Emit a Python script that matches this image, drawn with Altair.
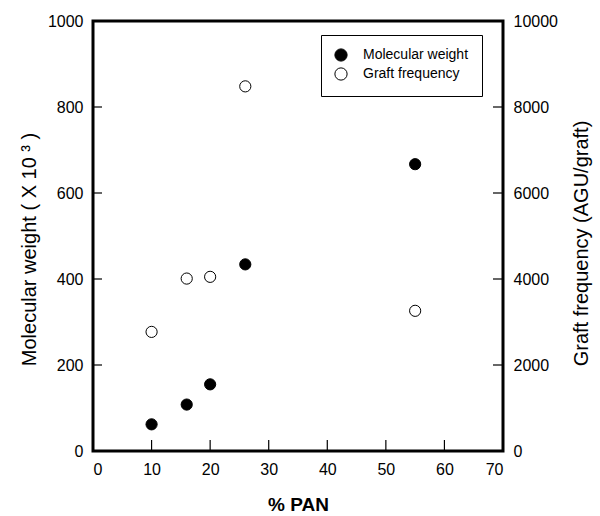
import altair as alt
import pandas as pd

# Data
pan_mw = [10, 16, 20, 26, 55]
mol_weight = [62, 108, 155, 434, 667]          # x 10^3
pan_gf = [10, 16, 20, 26, 55]
graft_freq = [2770, 4010, 4050, 8480, 3260]     # AGU/graft

x_ticks = [10, 20, 30, 40, 50, 60]
left_ticks = [200, 400, 600, 800]
right_ticks = [2000, 4000, 6000, 8000]

series_names = ["Molecular weight", "Graft frequency"]

mw_df = pd.DataFrame({"pan": pan_mw, "value": mol_weight, "series": series_names[0]})
gf_df = pd.DataFrame({"pan": pan_gf, "value": graft_freq, "series": series_names[1]})

FONT = "Liberation Sans"
W, H = 410, 430

x_scale = alt.Scale(domain=[0, 70], nice=False, zero=False)
y_left_scale = alt.Scale(domain=[0, 1000], nice=False)
y_right_scale = alt.Scale(domain=[0, 10000], nice=False)

fill_scale = alt.Scale(domain=series_names, range=["black", "white"])

x_axis = alt.Axis(
    values=list(range(0, 71, 10)), ticks=False, domain=False, grid=False, format="d",
    labelFontSize=16, labelPadding=10, labelColor="black", labelFont=FONT,
    title="% PAN", titleFontSize=19, titleFontWeight="bold", titlePadding=18,
    titleColor="black", titleFont=FONT,
)

left_axis = alt.Axis(
    orient="left", values=[0, 200, 400, 600, 800, 1000], ticks=False, domain=False, grid=False,
    format="d",
    labelFontSize=16, labelPadding=10, labelColor="black", labelFont=FONT,
    title="Molecular weight ( X 10 ³ )", titleFontSize=20, titleFontWeight="normal",
    titlePadding=8, titleColor="black", titleFont=FONT, titleY=228,
)

right_axis = alt.Axis(
    orient="right", values=[0, 2000, 4000, 6000, 8000, 10000], ticks=False, domain=False, grid=False,
    format="d",
    labelFontSize=16, labelPadding=10, labelColor="black", labelFont=FONT,
    title="Graft frequency (AGU/graft)", titleFontSize=20, titleFontWeight="normal",
    titleAngle=270, titlePadding=34, titleColor="black", titleFont=FONT, titleY=222,
)

legend = alt.Legend(
    title=None, orient="none", legendX=228, legendY=14,
    strokeColor="black", padding=13, rowPadding=1,
    symbolType="circle", symbolSize=150, symbolStrokeColor="black", symbolStrokeWidth=1,
    labelFontSize=14, labelFont=FONT, labelColor="black", labelOffset=15,
)

mw_points = alt.Chart(mw_df).mark_circle(size=125, stroke="black", strokeWidth=1, opacity=1).encode(
    x=alt.X("pan:Q", scale=x_scale, axis=x_axis),
    y=alt.Y("value:Q", scale=y_left_scale, axis=left_axis),
    fill=alt.Fill("series:N", scale=fill_scale, legend=legend),
)

left_tick_df = pd.DataFrame({"v": left_ticks})
left_tick_marks = alt.Chart(left_tick_df).mark_rule(color="black", strokeWidth=1.2).encode(
    y=alt.Y("v:Q", scale=y_left_scale, axis=left_axis),
    x=alt.value(0), x2=alt.value(9),
)

x_tick_df = pd.DataFrame({"v": x_ticks})
x_tick_marks = alt.Chart(x_tick_df).mark_rule(color="black", strokeWidth=1.2).encode(
    x=alt.X("v:Q", scale=x_scale, axis=x_axis),
    y=alt.value(H), y2=alt.value(H - 11),
)

left_group = alt.layer(mw_points, left_tick_marks, x_tick_marks)

gf_points = alt.Chart(gf_df).mark_circle(size=125, stroke="black", strokeWidth=1, opacity=1).encode(
    x=alt.X("pan:Q", scale=x_scale, axis=x_axis),
    y=alt.Y("value:Q", scale=y_right_scale, axis=right_axis),
    fill=alt.Fill("series:N", scale=fill_scale, legend=legend),
)

right_tick_df = pd.DataFrame({"v": right_ticks})
right_tick_marks = alt.Chart(right_tick_df).mark_rule(color="black", strokeWidth=1.2).encode(
    y=alt.Y("v:Q", scale=y_right_scale, axis=right_axis),
    x=alt.value(W), x2=alt.value(W - 10),
)

right_group = alt.layer(gf_points, right_tick_marks)

chart = alt.layer(left_group, right_group).resolve_scale(
    y="independent"
).properties(
    width=W, height=H,
    autosize=alt.AutoSizeParams(type="none"),
    padding={"left": 93, "top": 21, "right": 97, "bottom": 65},
    background="white",
).configure_view(
    stroke="black", strokeWidth=3,
)

chart.save("out.html", embed_options={"renderer": "svg", "actions": False})
